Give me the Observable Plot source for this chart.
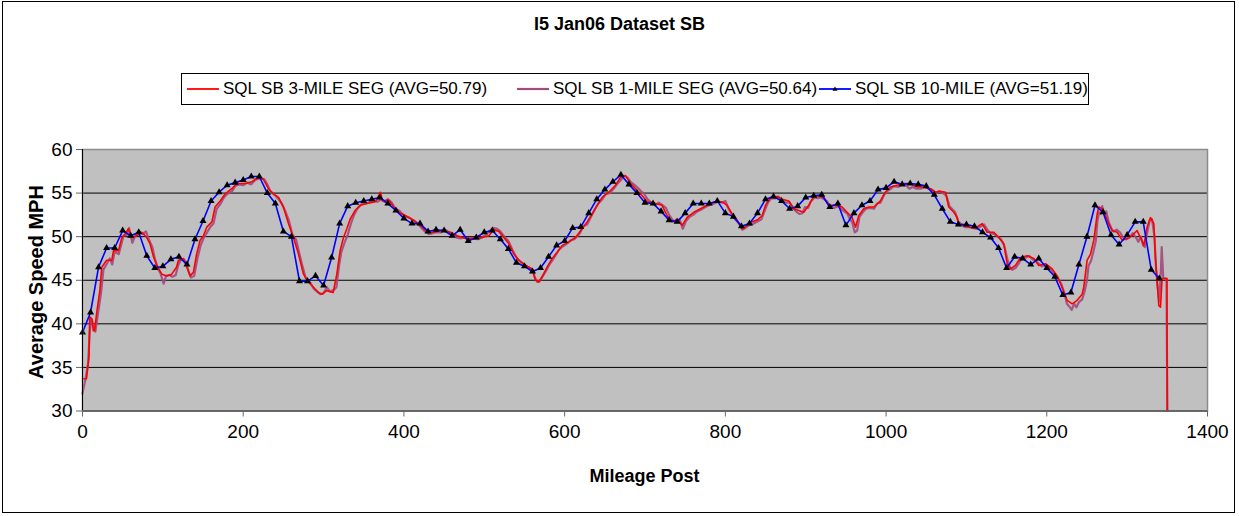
<!DOCTYPE html>
<html>
<head>
<meta charset="utf-8">
<script src="https://cdn.jsdelivr.net/npm/d3@7"></script>
<script src="https://cdn.jsdelivr.net/npm/@observablehq/plot@0.6"></script>
<style>
  html, body { margin: 0; padding: 0; background: #fff; }
  body { width: 1239px; height: 516px; position: relative; overflow: hidden; font-family: "Liberation Sans", Arial, sans-serif; }
  #outer { position: absolute; left: 2px; top: 1px; width: 1233px; height: 512px; border: 1px solid #000; box-sizing: border-box; }
  #chart { position: absolute; left: 0; top: 0; }
  .lbl { position: absolute; white-space: nowrap; color: #000; }
  #title { left: 0; width: 1239px; top: 14px; text-align: center; font-weight: bold; font-size: 18px; }
  #legend { position: absolute; left: 181px; top: 73px; width: 908px; height: 32px; border: 1px solid #000; box-sizing: border-box; background: #fff; }
  .item { position: absolute; top: 0; height: 30px; display: flex; align-items: center; font-size: 17px; white-space: nowrap; }
  .item svg { margin-right: 3px; flex: none; }
  #xlabel { left: 82px; width: 1125px; top: 466px; text-align: center; font-weight: bold; font-size: 18px; }
  #ylabel { left: 36px; top: 282px; font-weight: bold; font-size: 20px; transform: translate(-50%, -50%) rotate(-90deg); }
</style>
</head>
<body>
<div id="outer"></div>
<div id="chart"></div>
<div id="title" class="lbl">I5 Jan06 Dataset SB</div>
<div id="legend"></div>
<div id="xlabel" class="lbl">Mileage Post</div>
<div id="ylabel" class="lbl">Average Speed MPH</div>
<script>
// ---------------- DATA ----------------
const seriesNames = [
  "SQL SB 3-MILE SEG (AVG=50.79)",
  "SQL SB 1-MILE SEG (AVG=50.64)",
  "SQL SB 10-MILE (AVG=51.19)"
];
const xTicks = [0, 200, 400, 600, 800, 1000, 1200, 1400];
const yTicks = [30, 35, 40, 45, 50, 55, 60];
const yGrid = [35, 40, 45, 50, 55];

// SQL SB 10-MILE: [mileage post, mph]
const tenMile = [
  [0,39.0],[10,41.3],[20,46.5],[30,48.7],[40,48.7],[50,50.7],[60,50.1],[70,50.5],[80,47.8],[90,46.4],
  [100,46.6],[110,47.4],[120,47.7],[130,46.8],[140,49.7],[150,51.8],[160,54.1],[170,55.1],[180,55.9],[190,56.2],
  [200,56.5],[210,56.9],[220,56.9],[230,55.0],[240,53.8],[250,50.6],[260,50.0],[270,44.9],[280,44.9],[290,45.5],
  [300,44.4],[310,47.6],[320,51.5],[330,53.5],[340,53.9],[350,54.1],[360,54.3],[370,54.5],[380,53.8],[390,53.0],
  [400,52.1],[410,51.5],[420,51.5],[430,50.6],[440,50.8],[450,50.7],[460,50.1],[470,50.8],[480,49.5],[490,49.9],
  [500,50.5],[510,50.7],[520,49.7],[530,48.6],[540,47.0],[550,46.6],[560,46.0],[570,46.4],[580,47.7],[590,49.0],
  [600,49.5],[610,51.0],[620,51.1],[630,52.7],[640,54.3],[650,55.4],[660,56.3],[670,57.1],[680,56.0],[690,55.0],
  [700,53.9],[710,53.8],[720,52.9],[730,51.9],[740,51.7],[750,52.7],[760,53.8],[770,53.8],[780,53.8],[790,54.1],
  [800,52.7],[810,52.3],[820,51.2],[830,51.5],[840,52.7],[850,54.3],[860,54.6],[870,54.1],[880,53.2],[890,53.5],
  [900,54.5],[910,54.7],[920,54.8],[930,53.4],[940,53.8],[950,51.3],[960,52.7],[970,53.6],[980,54.1],[990,55.4],
  [1000,55.6],[1010,56.3],[1020,56.0],[1030,56.1],[1040,56.0],[1050,55.8],[1060,54.8],[1070,53.2],[1080,51.7],[1090,51.4],
  [1100,51.4],[1110,51.2],[1120,50.5],[1130,49.9],[1140,48.7],[1150,46.4],[1160,47.7],[1170,47.5],[1180,46.8],[1190,47.5],
  [1200,46.4],[1210,45.4],[1220,43.3],[1230,43.6],[1240,46.8],[1250,50.0],[1260,53.6],[1270,52.8],[1280,50.2],[1290,49.1],
  [1300,50.2],[1310,51.7],[1320,51.7],[1330,46.2],[1340,45.2]
];

// SQL SB 3-MILE SEG: [mileage post, mph]
const threeMile = [
  [0,33.7],[5,33.7],[8,36.2],[9,40.8],[12,40.5],[13.5,39.2],[15,39.2],[18,41.5],[21.6,43.8],[24,46.5],
  [30,47.3],[36.5,47.3],[38.6,48.4],[44.8,48.4],[49,49.9],[53,50.3],[57,50.9],[61.4,49.9],[67.6,50.1],[73.8,50.5],
  [80,49.9],[84,49.2],[88,47.8],[92.5,46.7],[98.7,45.7],[105,45.5],[111,45.7],[117,46.5],[119.4,47.3],[125.7,47.5],
  [130,46.5],[134,45.5],[138,45.9],[142,48.0],[146.4,49.6],[150.5,50.1],[154.7,51.1],[161,51.7],[165,53.4],[171.3,54.1],
  [177.5,54.9],[185.8,55.5],[192,56.1],[202.4,56.1],[210.7,56.3],[219,56.8],[225,56.6],[231.4,55.5],[237.6,54.9],[244,54.5],
  [250,53.4],[256.3,51.5],[262.5,49.9],[268.8,48.0],[275,45.7],[281,44.8],[287.4,44.2],[293.6,43.6],[297.8,43.4],[304,43.8],
  [312,43.6],[316.5,45.7],[320.6,48.4],[324.8,49.9],[329,50.9],[333,52.0],[339.3,53.0],[345.5,53.6],[353.8,53.8],[364.6,54.0],
  [370.9,55.1],[373,54.1],[381,54.2],[387.5,53.4],[393.7,52.8],[402,52.4],[412.3,51.9],[420.6,51.3],[429,50.5],[437.2,50.5],
  [447.6,50.7],[458,50.5],[466.3,50.1],[476.6,49.8],[487,49.8],[497.4,49.9],[505.7,50.1],[512,50.8],[518.1,50.6],[524.3,49.9],
  [530.6,49.2],[536.8,48.0],[543,47.3],[551.3,46.7],[559.6,46.3],[563.7,45.0],[567.9,44.8],[572,45.4],[578.2,46.5],[584.5,47.5],
  [590.7,48.2],[597,49.0],[605.2,49.4],[613.5,49.9],[621.8,50.9],[628,51.7],[634.2,52.6],[640.5,53.6],[646.7,54.5],[655,55.1],
  [663.3,55.9],[669.5,56.8],[675.7,57.0],[682,56.1],[690.2,55.3],[696.5,54.7],[702.7,54.0],[713,53.8],[721.3,53.6],[727.5,52.4],
  [733.8,51.7],[740,52.0],[746.2,51.3],[752.4,52.2],[760.7,52.8],[769,53.2],[777.3,53.6],[787.7,54.0],[796,54.0],[802.2,53.6],
  [808.4,52.6],[814.7,51.9],[821,50.9],[827,51.3],[833.3,51.7],[839.5,51.9],[845.7,52.4],[850,53.6],[856,54.5],[864.4,54.6],
  [870.6,54.3],[879,54.1],[885.2,53.2],[891.4,53.0],[897.6,52.8],[903.8,53.6],[910,54.6],[916.3,54.7],[922.5,54.5],[928.7,53.6],
  [937,53.6],[945.3,53.4],[951.5,52.8],[957.7,52.2],[962,51.1],[966,52.4],[972.2,53.2],[978.5,53.4],[984.7,53.4],[993,54.1],
  [999,55.1],[1005.4,55.7],[1013.7,55.9],[1022,56.1],[1030.3,56.1],[1038.6,55.7],[1047,55.7],[1055.2,55.5],[1061.4,55.1],[1067,55.2],
  [1074,55.1],[1078,53.4],[1084.3,52.8],[1088.5,52.2],[1090.5,51.3],[1096.8,51.3],[1103,51.1],[1111.3,51.0],[1119.6,51.5],[1125.8,50.5],
  [1134,50.5],[1140.3,49.9],[1146.5,49.2],[1150.7,46.9],[1154.8,46.3],[1161,46.7],[1167.3,47.6],[1175.6,47.8],[1183.9,47.5],[1190,46.7],
  [1198.4,46.9],[1206.7,46.3],[1213,45.5],[1219,44.2],[1225.3,42.7],[1231.6,42.3],[1237.8,42.7],[1244,43.4],[1246,44.2],[1250.2,47.3],
  [1254.4,48.0],[1258.5,49.6],[1262.7,52.6],[1264.7,53.4],[1269,53.2],[1273,52.4],[1277.2,51.5],[1281.3,50.7],[1287.5,50.5],[1293.8,49.6],
  [1300,49.8],[1306.2,50.1],[1312.4,50.7],[1316.6,49.9],[1320.7,49.0],[1324.9,51.1],[1329,52.2],[1333.2,51.5],[1335.2,47.6],[1339.4,42.1],
  [1341.5,41.9],[1343.5,45.2],[1347.7,45.2],[1349.5,45.2],[1350,30.0]
];

// SQL SB 1-MILE SEG: [mileage post, mph]
const oneMile = [
  [0,32.0],[4,33.8],[7,35.5],[9,39.0],[11,40.6],[14,39.6],[16,39.1],[19,41.0],[23,43.5],[26,46.2],
  [31,47.0],[34,47.5],[37,46.8],[40,48.3],[45,48.0],[48,49.0],[51,50.1],[55,50.2],[58,51.0],[62,49.3],
  [66,50.2],[70,50.6],[75,50.3],[79,50.6],[83,49.6],[87,48.8],[90,47.5],[94,46.3],[97,45.8],[101,44.6],
  [104,45.5],[108,45.6],[112,45.4],[116,45.6],[119,46.7],[122,47.3],[126,47.4],[129,47.0],[132,46.0],[135,45.3],
  [139,45.5],[143,47.5],[147,49.0],[151,49.9],[155,50.5],[159,51.1],[163,51.5],[167,53.2],[172,53.8],[176,54.5],
  [180,54.9],[186,55.2],[190,55.8],[195,56.0],[200,55.9],[205,56.2],[210,56.0],[215,56.5],[221,56.7],[226,56.6],
  [230,56.0],[234,55.2],[239,54.8],[244,54.3],[248,53.8],[252,53.0],[257,51.8],[261,50.3],[266,49.6],[270,48.0],
  [274,46.5],[278,45.2],[283,44.8],[288,44.0],[292,43.7],[296,43.4],[300,43.5],[304,44.2],[308,43.7],[313,43.9],
  [316,44.2],[319,46.5],[322,48.2],[326,49.3],[330,50.2],[334,51.5],[338,52.5],[342,53.2],[347,53.7],[352,53.8],
  [357,53.9],[362,54.2],[367,54.0],[372,54.3],[376,54.0],[380,54.3],[385,53.9],[389,53.2],[394,53.0],[398,52.6],
  [403,52.3],[408,52.1],[413,51.7],[418,51.4],[422,51.0],[426,50.6],[431,50.3],[436,50.4],[440,50.5],[446,50.5],
  [451,50.8],[455,50.6],[460,50.3],[465,49.9],[470,49.8],[476,49.9],[480,49.7],[486,49.8],[492,49.7],[497,49.9],
  [502,50.2],[507,50.7],[512,51.0],[516,50.9],[520,50.6],[525,50.0],[530,49.5],[535,48.5],[540,47.6],[545,47.1],
  [550,46.8],[555,46.5],[560,46.2],[563,45.3],[566,44.8],[569,44.9],[573,45.5],[577,46.1],[581,46.8],[585,47.3],
  [589,47.9],[593,48.5],[598,48.9],[603,49.2],[608,49.6],[612,49.7],[615,50.0],[619,50.4],[623,51.2],[628,51.4],
  [633,52.3],[638,53.2],[642,53.8],[647,54.3],[651,54.9],[656,55.0],[661,55.5],[665,56.0],[670,56.5],[674,57.0],
  [678,56.8],[682,56.3],[686,56.0],[691,55.6],[695,55.2],[699,54.9],[703,54.3],[708,53.9],[713,53.6],[717,53.9],
  [722,53.6],[726,53.3],[730,52.5],[735,51.8],[739,51.6],[743,52.0],[747,50.9],[751,51.8],[756,52.3],[760,52.5],
  [765,52.9],[770,53.1],[775,53.4],[780,53.6],[786,53.8],[791,54.0],[796,53.9],[800,54.1],[804,53.2],[809,52.4],
  [813,51.9],[817,51.5],[821,50.8],[825,51.0],[829,51.3],[833,51.4],[837,51.6],[841,51.8],[845,52.0],[849,53.0],
  [853,53.9],[857,54.4],[862,54.4],[866,54.6],[871,54.1],[876,53.9],[880,53.9],[884,53.3],[888,52.9],[892,52.6],
  [896,52.7],[899,53.4],[903,53.3],[906,54.0],[911,54.5],[915,54.4],[919,54.5],[923,54.3],[927,54.0],[930,53.3],
  [935,53.3],[940,53.5],[944,53.2],[948,52.9],[952,52.6],[955,52.0],[958,51.6],[961,50.5],[964,50.7],[967,52.3],
  [971,52.8],[975,53.2],[980,53.3],[985,53.2],[989,53.8],[993,53.9],[997,54.7],[1001,55.2],[1006,55.5],[1010,55.8],
  [1015,55.7],[1020,56.0],[1025,55.9],[1029,55.5],[1033,55.7],[1038,55.5],[1043,55.5],[1048,55.7],[1053,55.5],[1057,55.4],
  [1062,55.0],[1066,55.2],[1071,55.0],[1075,54.7],[1079,53.5],[1083,53.1],[1086,52.8],[1090,51.7],[1094,51.4],[1098,51.1],
  [1103,51.1],[1108,51.0],[1113,50.9],[1118,51.2],[1122,51.4],[1126,50.8],[1130,50.4],[1135,50.3],[1139,50.0],[1143,49.7],
  [1147,49.0],[1151,47.4],[1154,46.5],[1157,46.2],[1161,46.4],[1165,46.9],[1169,47.5],[1174,47.6],[1178,47.8],[1182,47.4],
  [1186,47.3],[1190,46.9],[1194,46.6],[1198,46.8],[1202,46.6],[1206,46.1],[1210,45.6],[1214,45.2],[1218,44.6],[1222,43.5],
  [1225,42.3],[1228,42.0],[1231,41.6],[1234,42.3],[1237,41.9],[1240,42.5],[1244,42.8],[1247,43.7],[1250,45.0],[1252,46.7],
  [1255,47.2],[1258,48.3],[1261,49.5],[1263,51.8],[1265,52.8],[1267,52.6],[1269,53.5],[1271,52.8],[1274,52.9],[1277,51.7],
  [1280,51.0],[1283,50.6],[1287,50.8],[1291,50.5],[1295,49.9],[1299,49.7],[1303,49.9],[1307,50.4],[1311,49.9],[1314,49.4],
  [1317,50.0],[1320,49.0],[1322,48.8],[1325,50.5],[1328,51.8],[1331,52.0],[1334,50.0],[1336,46.3],[1338,44.2],[1340,42.6],
  [1342,46.0],[1343,48.8],[1345,45.2],[1347,45.2],[1349,45.2],[1350,30.0]
];

const colors = ["#ff0000", "#a04a7e", "#0000ff"];

// ---------------- CHART ----------------
const chart = Plot.plot({
  width: 1239,
  height: 516,
  marginLeft: 82,
  marginRight: 32,
  marginTop: 149,
  marginBottom: 105.5,
  style: { fontFamily: "'Liberation Sans', Arial, sans-serif", background: "transparent", overflow: "visible", color: "#000" },
  x: { domain: [0, 1400] },
  y: { domain: [30, 60] },
  marks: [
    Plot.frame({ fill: "#c0c0c0", stroke: null }),
    Plot.ruleY(yGrid, { stroke: "#000", strokeWidth: 1 }),
    Plot.line(oneMile, { x: d => d[0], y: d => d[1], stroke: colors[1], strokeWidth: 2.2, strokeOpacity: 0.9 }),
    Plot.line(threeMile, { x: d => d[0], y: d => d[1], stroke: colors[0], strokeWidth: 1.6 }),
    Plot.line(tenMile, { x: d => d[0], y: d => d[1], stroke: colors[2], strokeWidth: 1.6 }),
    Plot.dot(tenMile, { x: d => d[0], y: d => d[1], symbol: "triangle", r: 2.6, fill: "#000", stroke: null }),
    Plot.frame({ stroke: "#8c8c8c", strokeWidth: 1.5 }),
    Plot.ruleX([0], { stroke: "#000", strokeWidth: 1 }),
    Plot.ruleY([30], { stroke: "#555", strokeWidth: 1.5 }),
    Plot.axisY({ ticks: yTicks, tickSize: 6, tickPadding: 4, fontSize: 19, label: null, stroke: "#666", tickFormat: d => String(d) }),
    Plot.axisX({ ticks: xTicks, tickSize: 6, tickPadding: 7, fontSize: 19, label: null, stroke: "#666", tickFormat: d => String(d) })
  ]
});
document.getElementById("chart").appendChild(chart);

// ---------------- LEGEND ----------------
const legend = document.getElementById("legend");
const itemLefts = [4, 334, 636];
seriesNames.forEach((name, i) => {
  const item = document.createElement("div");
  item.className = "item";
  item.style.left = itemLefts[i] + "px";
  const ns = "http://www.w3.org/2000/svg";
  const s = document.createElementNS(ns, "svg");
  s.setAttribute("width", 34); s.setAttribute("height", 10);
  const ln = document.createElementNS(ns, "line");
  ln.setAttribute("x1", 1); ln.setAttribute("x2", 33); ln.setAttribute("y1", 5); ln.setAttribute("y2", 5);
  ln.setAttribute("stroke", colors[i]); ln.setAttribute("stroke-width", i === 1 ? 2.2 : 1.8);
  s.appendChild(ln);
  if (i === 2) {
    const tri = document.createElementNS(ns, "path");
    tri.setAttribute("d", "M17,2.5 L19.5,6.8 L14.5,6.8 Z");
    tri.setAttribute("fill", "#000");
    s.appendChild(tri);
  }
  item.appendChild(s);
  const t = document.createElement("span");
  t.textContent = name;
  item.appendChild(t);
  legend.appendChild(item);
});
</script>
</body>
</html>
